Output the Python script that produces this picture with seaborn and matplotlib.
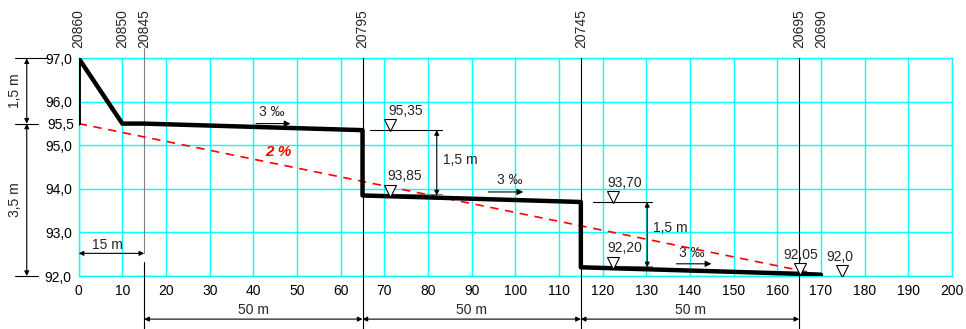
import matplotlib
matplotlib.use("Agg")
import matplotlib.pyplot as plt
import seaborn as sns
import pandas as pd

# ---- data ----
station_labels = ["20860", "20850", "20845", "20795", "20745", "20695", "20690"]
station_x = [0, 10, 15, 65, 115, 165, 170]

profile_x = [0, 0, 10, 15, 65, 65, 115, 115, 165, 170]
profile_y = [95.5, 97.0, 95.5, 95.5, 95.35, 93.85, 93.70, 92.20, 92.05, 92.03]

grade_x = [0, 170]
grade_y = [95.5, 92.03]
grade_label = "2 %"

level_marker_x = [71.4, 71.4, 122.4, 122.4, 165.2, 174.9]
level_text_x = [74.9, 74.7, 125.1, 125.1, 165.4, 174.3]
level_y = [95.35, 93.85, 93.70, 92.20, 92.05, 92.0]
level_labels = ["95,35", "93,85", "93,70", "92,20", "92,05", "92,0"]

slope_text = "3 ‰"
slope_text_x = [44.3, 98.8, 140.3]
slope_text_y = [95.77, 94.21, 92.52]
slope_arrow_x0 = [40.6, 93.8, 136.9]
slope_arrow_x1 = [48.5, 101.8, 144.9]
slope_arrow_y = [95.5, 93.93, 92.28]

drop_x = [82.0, 130.2]
drop_top = [95.35, 93.70]
drop_bottom = [93.85, 92.20]
drop_line_x0 = [66.7, 117.8]
drop_line_x1 = [83.1, 131.2]
drop_text_x = [83.4, 131.6]
drop_text_y = [94.67, 93.1]
drop_label = "1,5 m"

span_x0 = [15, 65, 115]
span_x1 = [65, 115, 165]
span_label = "50 m"

yticks_major = [92, 93, 94, 95, 96, 97]
ytick_major_labels = ["92,0", "93,0", "94,0", "95,0", "96,0", "97,0"]
ytick_minor = [95.5]
ytick_minor_labels = ["95,5"]
xticks = list(range(0, 201, 10))

# ---- styling ----
sns.set_theme(style="white")
plt.rcParams["font.family"] = ["Liberation Sans", "DejaVu Sans"]
FS = 10
CYAN = "#00ffff"

fig = plt.figure(figsize=(9.66, 3.29), dpi=100)
ax = fig.add_axes([78.7 / 966, 1 - 276 / 329, (952 - 78.7) / 966, 217.7 / 329])
ax.set_xlim(0, 200)
ax.set_ylim(92, 97)

ax.set_xticks(xticks)
ax.set_xticklabels([str(v) for v in xticks], fontsize=FS)
ax.set_yticks(yticks_major)
ax.set_yticklabels(ytick_major_labels, fontsize=FS)
ax.set_yticks(ytick_minor, labels=ytick_minor_labels, minor=True, fontsize=FS)
ax.tick_params(axis="both", which="both", length=0, colors="black")
ax.tick_params(axis="x", pad=6)
ax.tick_params(axis="y", pad=5)
ax.grid(True, which="major", color=CYAN, lw=1.0)
ax.grid(False, which="minor")
for s in ax.spines.values():
    s.set_color(CYAN)
    s.set_linewidth(1.0)
ax.set_xlabel("")
ax.set_ylabel("")

xt = ax.get_xaxis_transform()

# vertical station lines
for sx in [65, 115, 165]:
    ax.plot([sx, sx], [-0.25, 1.0], transform=xt, color="black", lw=0.8, clip_on=False, zorder=3)
ax.plot([15, 15], [0.106, 1.047], transform=xt, color="gray", lw=0.8, clip_on=False, zorder=3)
ax.plot([15, 15], [-0.25, 0.064], transform=xt, color="black", lw=0.8, clip_on=False, zorder=3)

# station labels
for sx, lab in zip(station_x, station_labels):
    ax.text(sx, 1.047, lab, transform=xt, rotation=90, ha="center", va="bottom",
            fontsize=FS, clip_on=False)

# grade line
sns.lineplot(x=grade_x, y=grade_y, ax=ax, color="red", lw=1.2, linestyle=(0, (5, 4)),
             estimator=None, sort=False, zorder=4)
ax.text(45.7, 94.84, grade_label, color="red", fontsize=FS + 1, fontweight="bold",
        fontstyle="italic", ha="center", va="center")

# level lines
for x0, x1, yt, yb in zip(drop_line_x0, drop_line_x1, drop_top, drop_bottom):
    ax.plot([x0, x1], [yt, yt], color="black", lw=0.8, zorder=3)
    ax.plot([x0, x1], [yb + 0.03, yb + 0.03], color="gray", lw=0.8, zorder=3)

# profile
sns.lineplot(x=profile_x, y=profile_y, ax=ax, color="black", lw=3.2,
             estimator=None, sort=False, zorder=5)

arrow_kw = dict(arrowstyle="<|-|>", mutation_scale=7, lw=0.8, color="black",
                shrinkA=0, shrinkB=0)
one_kw = dict(arrowstyle="-|>", mutation_scale=9, lw=0.8, color="black",
              shrinkA=0, shrinkB=0)

# drop dimensions
for dx, yt, yb, tx, ty in zip(drop_x, drop_top, drop_bottom, drop_text_x, drop_text_y):
    ax.annotate("", xy=(dx, yb), xytext=(dx, yt), arrowprops=arrow_kw, zorder=6)
    ax.text(tx, ty, drop_label, ha="left", va="center", fontsize=FS)

# level markers
ax.plot(level_marker_x, [v + 0.11 for v in level_y], linestyle="none", marker="v",
        markersize=8, markerfacecolor="white", markeredgecolor="black", mew=0.8, zorder=6)
for tx, v, lab in zip(level_text_x, level_y, level_labels):
    ax.text(tx, v + 0.44, lab, ha="center", va="center", fontsize=FS, zorder=7)

# slope annotations
for tx, ty, x0, x1, ay in zip(slope_text_x, slope_text_y, slope_arrow_x0, slope_arrow_x1, slope_arrow_y):
    ax.text(tx, ty, slope_text, ha="center", va="center", fontsize=FS)
    ax.annotate("", xy=(x1, ay), xytext=(x0, ay), arrowprops=one_kw, zorder=6)

# 15 m dimension
ax.annotate("", xy=(15, 92.52), xytext=(0, 92.52), arrowprops=arrow_kw, zorder=6)
ax.text(6.5, 92.72, "15 m", ha="center", va="center", fontsize=FS)

# bottom 50 m spans
for x0, x1 in zip(span_x0, span_x1):
    ax.annotate("", xy=(x1, -0.198), xytext=(x0, -0.198), xycoords=xt, textcoords=xt,
                arrowprops=arrow_kw, annotation_clip=False)
    ax.text((x0 + x1) / 2, -0.156, span_label, transform=xt, ha="center", va="center",
            fontsize=FS, clip_on=False)

# left height dimensions
lx = -11.9
ax.annotate("", xy=(lx, 95.5), xytext=(lx, 97.0), arrowprops=arrow_kw, annotation_clip=False)
ax.annotate("", xy=(lx, 92.0), xytext=(lx, 95.5), arrowprops=arrow_kw, annotation_clip=False)
ax.plot([-14.6, -7.0], [97.0, 97.0], color="black", lw=0.8, clip_on=False)
ax.plot([-14.6, -9.3], [95.5, 95.5], color="black", lw=0.8, clip_on=False)
ax.plot([-14.6, -9.3], [92.0, 92.0], color="black", lw=0.8, clip_on=False)
ax.text(-14.6, 96.25, "1,5 m", rotation=90, ha="center", va="center", fontsize=FS, clip_on=False)
ax.text(-14.6, 93.75, "3,5 m", rotation=90, ha="center", va="center", fontsize=FS, clip_on=False)

fig.savefig("out.png", dpi=100, facecolor="white")
